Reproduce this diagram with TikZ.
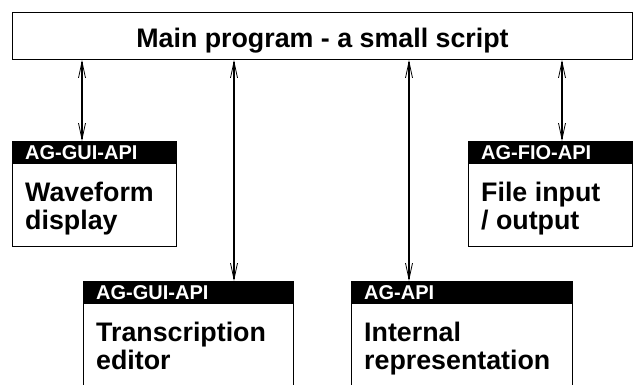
\documentclass[tikz,border=0pt]{standalone}
\usepackage{fontspec}
\setmainfont{Liberation Sans}
\usetikzlibrary{positioning,arrows.meta}

\newcommand{\titlefont}{\fontsize{26.8}{28}\selectfont\bfseries}
\newcommand{\barfont}{\fontsize{20}{20}\selectfont\bfseries}

\tikzset{
  apibox/.style={draw, line width=1pt, anchor=north west, inner sep=0pt},
  apibar/.style={fill=black, text=white, anchor=north west, inner xsep=13pt, inner ysep=0pt,
    minimum height=23pt, text depth=0pt, align=left, font=\barfont},
  apitext/.style={anchor=north west, inner sep=0pt, align=left, font=\titlefont},
  apilink/.style={{Straight Barb[length=16pt,width=7pt,line width=0.8pt]}-{Straight Barb[length=16pt,width=7pt,line width=0.8pt]}, line width=1.4pt},
}

\begin{document}
\begin{tikzpicture}[x=1pt, y=-1pt]
    \useasboundingbox (0,0) rectangle (633,384);
    \clip (0,0) rectangle (633,384);
    \coordinate (p1) at (82, 0);
    \coordinate (p2) at (234, 0);
    \coordinate (p3) at (409, 0);
    \coordinate (p4) at (562, 0);
    % main script
    \node[apibox, minimum width=620pt, minimum height=47pt, inner sep=3pt, text height=22pt, text depth=0pt, font=\titlefont] (main) at (12, 12) {Main program - a small script};
    % modules
    \node[apibox, minimum width=164pt, minimum height=105pt] (wave) at (12, 141) {};
    \node[apibar, text width=138pt] (wavebar) at (wave.north west) {AG-GUI-API};
    \node[apitext, below right=17pt and 13pt of wavebar.south west] (wavetext) {Waveform\\display};
    \node[apibox, minimum width=210pt, minimum height=130pt] (trans) at (83, 281) {};
    \node[apibar, text width=184pt] (transbar) at (trans.north west) {AG-GUI-API};
    \node[apitext, below right=17pt and 13pt of transbar.south west] (transtext) {Transcription\\editor};
    \node[apibox, minimum width=221pt, minimum height=130pt] (intl) at (351, 281) {};
    \node[apibar, text width=195pt] (intlbar) at (intl.north west) {AG-API};
    \node[apitext, below right=17pt and 13pt of intlbar.south west] (intltext) {Internal\\representation};
    \node[apibox, minimum width=164pt, minimum height=105pt] (fio) at (468, 141) {};
    \node[apibar, text width=138pt] (fiobar) at (fio.north west) {AG-FIO-API};
    \node[apitext, below right=17pt and 13pt of fiobar.south west] (fiotext) {File input\\/ output};
    % links
    \draw[apilink] (main.south -| p1) -- (wavebar.north -| p1);
    \draw[apilink] (main.south -| p2) -- (transbar.north -| p2);
    \draw[apilink] (main.south -| p3) -- (intlbar.north -| p3);
    \draw[apilink] (main.south -| p4) -- (fiobar.north -| p4);
  \end{tikzpicture}
\end{document}
